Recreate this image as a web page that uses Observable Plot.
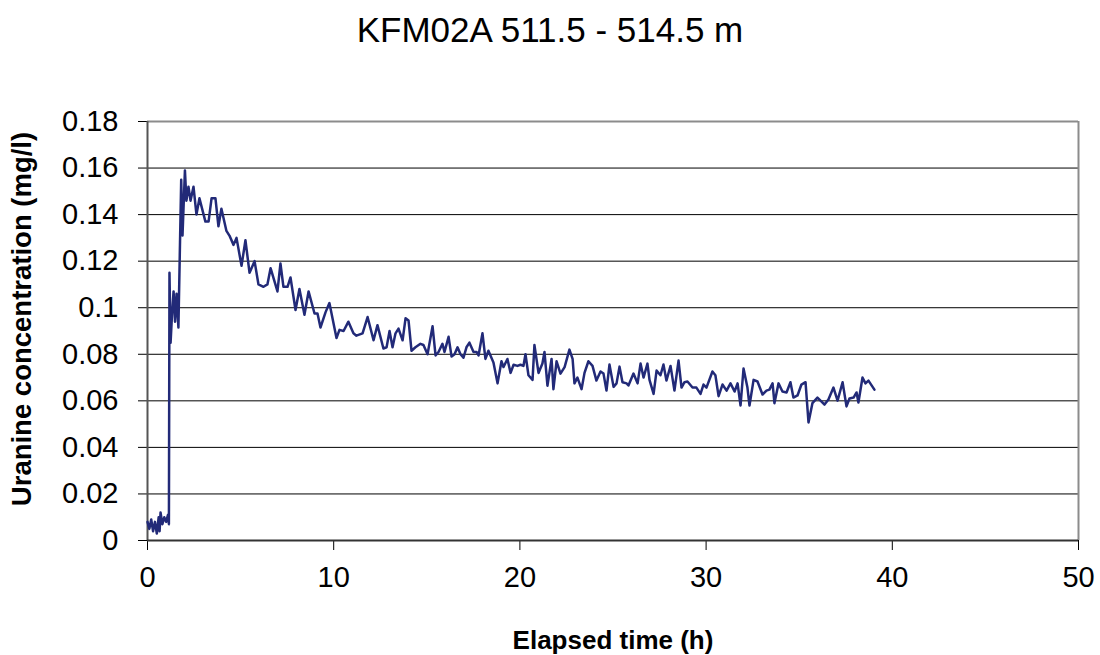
<!DOCTYPE html>
<html><head><meta charset="utf-8">
<script src="https://cdn.jsdelivr.net/npm/d3@7"></script>
<script src="https://cdn.jsdelivr.net/npm/@observablehq/plot@0.6"></script>
<style>
body{margin:0;background:#fff;font-family:"Liberation Sans",Arial,sans-serif;}
#title{height:60px;line-height:60px;text-align:center;font-size:35px;color:#000;white-space:nowrap;}
#chart svg{display:block;}
</style></head><body>
<div id="title">KFM02A 511.5 - 514.5 m</div>
<div id="chart"></div>
<script>
const titleText = "KFM02A 511.5 - 514.5 m";
const xLabel = "Elapsed time (h)";
const yLabel = "Uranine concentration (mg/l)";
const xTicks = [0, 10, 20, 30, 40, 50];
const yTicks = [0, 0.02, 0.04, 0.06, 0.08, 0.1, 0.12, 0.14, 0.16, 0.18];
const yTickLabels = ["0", "0.02", "0.04", "0.06", "0.08", "0.1", "0.12", "0.14", "0.16", "0.18"];

const time = [0.0,0.1,0.2,0.3,0.4,0.5,0.6,0.65,0.7,0.8,0.9,1.0,1.1,1.15,
1.18,1.24,1.32,1.40,1.48,1.56,1.66,1.81,1.88,2.01,2.09,2.20,2.31,2.47,2.63,2.79,3.11,3.28,3.44,3.65,3.81,3.97,
4.24,4.40,4.62,4.78,5.05,5.26,5.48,5.75,5.96,6.23,6.44,6.61,6.98,7.14,7.30,7.52,7.68,7.95,8.16,8.43,8.65,8.97,
9.13,9.29,9.56,9.77,10.15,10.31,10.53,10.79,11.06,11.22,11.55,11.82,12.14,12.35,12.67,12.84,13.00,13.16,13.32,
13.48,13.70,13.86,14.02,14.18,14.39,14.66,14.82,15.04,15.31,15.47,15.63,15.84,15.95,16.17,16.33,16.49,16.65,
16.81,16.97,17.13,17.29,17.51,17.67,17.78,17.99,18.15,18.31,18.58,18.80,19.01,19.12,19.33,19.50,19.66,19.87,
20.03,20.19,20.30,20.46,20.68,20.78,21.00,21.21,21.32,21.48,21.70,21.80,21.97,22.18,22.40,22.66,22.83,22.93,
23.09,23.31,23.47,23.68,23.90,24.11,24.33,24.49,24.65,24.81,25.03,25.19,25.35,25.51,25.73,25.83,26.10,26.32,
26.48,26.64,26.85,26.96,27.18,27.34,27.55,27.71,27.87,28.09,28.30,28.52,28.68,28.84,29.00,29.27,29.48,29.70,
29.86,30.02,30.34,30.50,30.67,30.88,31.10,31.31,31.53,31.69,31.85,32.01,32.22,32.33,32.55,32.76,33.03,33.24,
33.40,33.57,33.67,33.89,34.10,34.32,34.53,34.69,34.91,35.12,35.34,35.50,35.71,35.98,36.20,36.36,36.57,36.84,
37.06,37.33,37.54,37.70,37.92,38.08,38.18,38.40,38.56,38.72,39.04];

const concentration = [0.008,0.005,0.009,0.004,0.008,0.003,0.010,0.004,0.012,0.007,0.010,0.008,0.011,0.007,
0.115,0.085,0.0975,0.107,0.094,0.106,0.0915,0.155,0.131,0.159,0.146,0.152,0.146,0.152,0.140,0.147,0.137,0.137,0.147,0.147,0.135,0.1425,
0.133,0.131,0.127,0.130,0.118,0.129,0.115,0.120,0.110,0.109,0.110,0.117,0.107,0.119,0.109,0.109,0.113,0.099,0.108,0.097,0.107,0.0975,
0.0975,0.0915,0.098,0.102,0.087,0.0905,0.090,0.094,0.089,0.088,0.089,0.096,0.086,0.0925,0.0825,0.083,0.090,0.083,0.089,
0.091,0.086,0.0955,0.0945,0.0815,0.083,0.0845,0.084,0.080,0.092,0.0795,0.081,0.0845,0.081,0.0875,0.079,0.080,0.083,
0.080,0.0785,0.083,0.085,0.081,0.081,0.0795,0.089,0.078,0.0815,0.0765,0.0675,0.077,0.0745,0.078,0.072,0.0755,0.075,
0.0755,0.075,0.080,0.071,0.069,0.084,0.072,0.076,0.081,0.0665,0.078,0.065,0.077,0.0717,0.0745,0.082,0.078,0.0675,
0.070,0.065,0.072,0.077,0.075,0.0687,0.0726,0.0717,0.0644,0.0756,0.066,0.0675,0.0747,0.068,0.0675,0.0666,0.0717,0.0675,
0.076,0.070,0.076,0.069,0.063,0.073,0.071,0.0756,0.0687,0.075,0.0644,0.0773,0.0657,0.068,0.0683,0.0657,0.0657,0.063,
0.067,0.0657,0.0726,0.071,0.062,0.067,0.0644,0.0675,0.064,0.0675,0.058,0.0739,0.0657,0.058,0.069,0.0683,0.0627,0.0644,
0.0648,0.0675,0.059,0.0675,0.064,0.0636,0.068,0.0614,0.0623,0.067,0.068,0.0507,0.059,0.0614,0.0597,0.0584,0.0606,0.0657,
0.0601,0.068,0.0576,0.061,0.0614,0.0636,0.0593,0.070,0.0675,0.0687,0.0648];

const data = time.map((t, i) => ({t, c: concentration[i]}));

const W = 1100, H = 595;
const chart = Plot.plot({
  width: W, height: H,
  marginLeft: 147, marginRight: 22, marginTop: 61, marginBottom: 115,
  style: {fontFamily: '"Liberation Sans", Arial, sans-serif', background: "#fff", color: "#000"},
  x: {domain: [0, 50], ticks: xTicks},
  y: {domain: [0, 0.18], ticks: yTicks},
  marks: [
    Plot.ruleY(yTicks.filter(d => d > 0 && d < 0.18), {stroke: "#000", strokeWidth: 1}),
    Plot.ruleY([0.18], {stroke: "#8c8c8c", strokeWidth: 2}),
    Plot.ruleX([50], {stroke: "#8c8c8c", strokeWidth: 2}),
    Plot.axisY({ticks: yTicks, tickFormat: d => yTickLabels[yTicks.indexOf(d)], tickSize: 9, tickPadding: 20, fontSize: 29, label: null, stroke: "#000"}),
    Plot.axisX({ticks: xTicks, tickFormat: d => String(d), tickSize: 10, tickPadding: 16, fontSize: 29, label: null, stroke: "#000"}),
    Plot.ruleX([0], {stroke: "#555", strokeWidth: 2}),
    Plot.ruleY([0], {stroke: "#333", strokeWidth: 2}),
    Plot.line(data, {x: "t", y: "c", stroke: "#222a78", strokeWidth: 2.5, strokeLinejoin: "round"}),
    Plot.text([xLabel], {frameAnchor: "bottom", dy: 100, text: d => d, fontSize: 26, fontWeight: "bold", lineAnchor: "middle", textAnchor: "middle"}),
    Plot.text([yLabel], {frameAnchor: "left", dx: -125, dy: -12, rotate: -90, text: d => d, fontSize: 27.5, fontWeight: "bold", textAnchor: "middle", lineAnchor: "middle"})
  ]
});
document.getElementById("chart").appendChild(chart);
</script>
</body></html>
